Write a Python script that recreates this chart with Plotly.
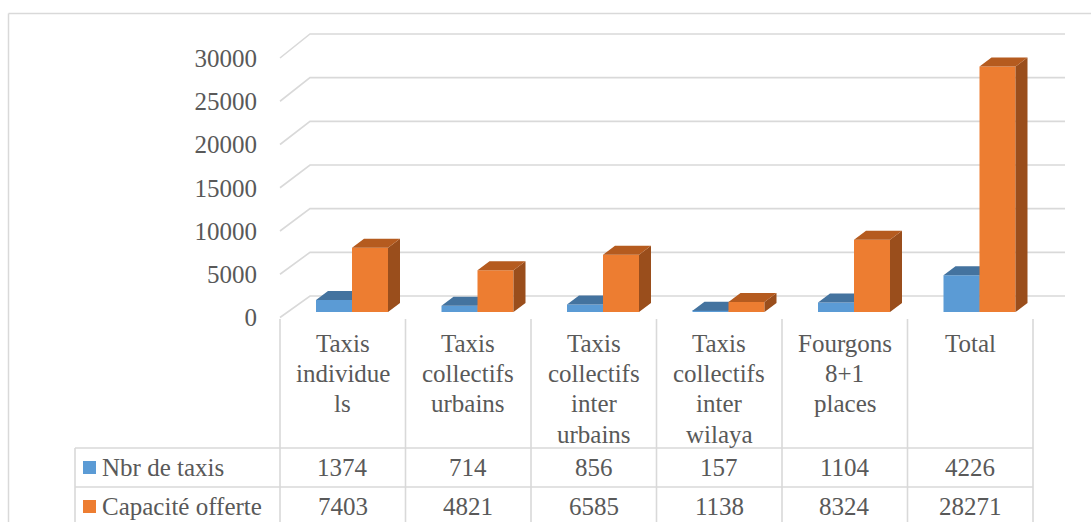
import plotly.graph_objects as go

# ---- data -----------------------------------------------------------------
categories = [
    "Taxis<br>individue<br>ls",
    "Taxis<br>collectifs<br>urbains",
    "Taxis<br>collectifs<br>inter<br>urbains",
    "Taxis<br>collectifs<br>inter<br>wilaya",
    "Fourgons<br>8+1<br>places",
    "Total",
]
series_names = ["Nbr de taxis", "Capacité offerte"]
nbr_taxis = [1374, 714, 856, 157, 1104, 4226]
capacite_offerte = [7403, 4821, 6585, 1138, 8324, 28271]
y_ticks = [0, 5000, 10000, 15000, 20000, 25000, 30000]

# ---- styling --------------------------------------------------------------
W, H = 1091, 522
FONT = "Liberation Serif"
TEXT = "#595959"
GRID = "#D9D9D9"
BLUE = dict(front="#5B9BD5", top="#44739F", side="#3E6A93")
ORANGE = dict(front="#ED7D31", top="#B55B1F", side="#9A4E1C")
FS = 25
TXT_FONT = dict(family=FONT, size=FS, color=TEXT)

# horizontal scale: category units, each category 125.5 px wide
X0_PX, CAT_PX = 280, 125.5


def px_x(px):
    return (px - X0_PX) / CAT_PX - 0.5


def paper_y(py):
    return 1 - py / H


# vertical planes of the 3-D box: (pixel row of zero, pixels per unit)
FRONT = (317.5, 259.5 / 30000)
BARS = (312.0, 8.68e-3)
WALL = (296.0, 262.0 / 30000)


def y_range(plane):
    z, s = plane
    return [-(H - z) / s, z / s]


def on_front(v, plane):
    """value v of a given plane expressed in front-axis units"""
    z, s = plane
    py = z - v * s
    return (FRONT[0] - py) / FRONT[1]


fig = go.Figure()

# back wall gridlines with their perspective diagonals
for v in y_ticks:
    wv = on_front(v, WALL)
    fig.add_trace(go.Scatter(
        x=[px_x(280), px_x(310), px_x(1065)], y=[v, wv, wv],
        mode="lines", line=dict(color=GRID, width=1.6),
        hoverinfo="skip", showlegend=False, yaxis="y"))

# 3-D columns: front face as bar, top & right faces as filled polygons
bar_w = 36 / CAT_PX
depth_x = 12 / CAT_PX
depth_y = 9 / BARS[1]
left_edge = px_x(316)  # left edge of the first column in category 0
series = [(series_names[0], nbr_taxis, BLUE, "y2", 0),
          (series_names[1], capacite_offerte, ORANGE, "y3", 1)]

for name, vals, col, yax, k in series:
    lefts = [i + left_edge + k * bar_w for i in range(len(vals))]
    fig.add_trace(go.Bar(
        x=[l + bar_w / 2 for l in lefts], y=vals, width=bar_w, base=0,
        marker=dict(color=col["front"], line=dict(width=0)),
        name=name, yaxis=yax, showlegend=False,
        hovertemplate="%{y}<extra>" + name + "</extra>"))
    tx, ty, sx, sy = [], [], [], []
    for l, v in zip(lefts, vals):
        r = l + bar_w
        tx += [l, r, r + depth_x, l + depth_x, l, None]
        ty += [v, v, v + depth_y, v + depth_y, v, None]
        sx += [r, r + depth_x, r + depth_x, r, r, None]
        sy += [0, depth_y, v + depth_y, v, 0, None]
    fig.add_trace(go.Scatter(
        x=sx, y=sy, fill="toself", fillcolor=col["side"], mode="lines",
        line=dict(width=0, color=col["side"]), hoverinfo="skip",
        showlegend=False, yaxis=yax))
    fig.add_trace(go.Scatter(
        x=tx, y=ty, fill="toself", fillcolor=col["top"], mode="lines",
        line=dict(width=0, color=col["top"]), hoverinfo="skip",
        showlegend=False, yaxis=yax))

# ---- data table under the plot --------------------------------------------
shapes = []
annotations = []
n = len(categories)
line = dict(color=GRID, width=1.6)
for k in range(n + 1):
    shapes.append(dict(type="line", xref="x", yref="paper",
                       x0=k - 0.5, x1=k - 0.5,
                       y0=paper_y(319), y1=paper_y(H + 2), line=line))
for py in (448, 487):
    shapes.append(dict(type="line", xref="x", yref="paper",
                       x0=px_x(75), x1=n - 0.5,
                       y0=paper_y(py), y1=paper_y(py), line=line))
shapes.append(dict(type="line", xref="x", yref="paper",
                   x0=px_x(75), x1=px_x(75),
                   y0=paper_y(448), y1=paper_y(H + 2), line=line))
# chart area border
shapes.append(dict(type="line", xref="paper", yref="paper",
                   x0=8.5 / W, x1=1, y0=paper_y(13.5), y1=paper_y(13.5),
                   line=dict(color=GRID, width=1.5)))
shapes.append(dict(type="line", xref="paper", yref="paper",
                   x0=8.5 / W, x1=8.5 / W, y0=paper_y(13.5), y1=paper_y(H + 2),
                   line=dict(color=GRID, width=1.5)))

# category headers, one annotation per text line
for i, cat in enumerate(categories):
    for j, part in enumerate(cat.split("<br>")):
        annotations.append(dict(
            x=i, y=paper_y(343 + 30.4 * j), xref="x", yref="paper",
            text=part, showarrow=False, xanchor="center", yanchor="middle",
            font=TXT_FONT))

# rows: legend key, series name, values
row_py = [467.5, 506.5]
for (name, vals, col, _, _), py in zip(series, row_py):
    shapes.append(dict(type="rect", xref="x", yref="paper",
                       x0=px_x(83), x1=px_x(96),
                       y0=paper_y(py - 6.5), y1=paper_y(py + 6.5),
                       fillcolor=col["front"], line=dict(width=0)))
    annotations.append(dict(
        x=px_x(100), y=paper_y(py), xref="x", yref="paper", text=name,
        showarrow=False, xanchor="left", yanchor="middle", font=TXT_FONT))
    for i, v in enumerate(vals):
        annotations.append(dict(
            x=i, y=paper_y(py), xref="x", yref="paper", text=str(v),
            showarrow=False, xanchor="center", yanchor="middle",
            font=TXT_FONT))

fig.update_layout(
    width=W, height=H,
    margin=dict(l=0, r=0, t=0, b=0),
    paper_bgcolor="white", plot_bgcolor="white",
    barmode="overlay",
    xaxis=dict(range=[px_x(0), px_x(W)], domain=[0, 1], visible=False),
    yaxis=dict(range=y_range(FRONT), domain=[0, 1], anchor="free",
               position=257 / W, tickvals=y_ticks,
               ticktext=[str(t) for t in y_ticks], ticks="",
               showgrid=False, zeroline=False, showline=False,
               tickfont=TXT_FONT),
    yaxis2=dict(range=y_range(BARS), overlaying="y", visible=False),
    yaxis3=dict(range=y_range(BARS), overlaying="y", visible=False),
    shapes=shapes,
    annotations=annotations,
    showlegend=False,
)

fig.write_html("out.html")
